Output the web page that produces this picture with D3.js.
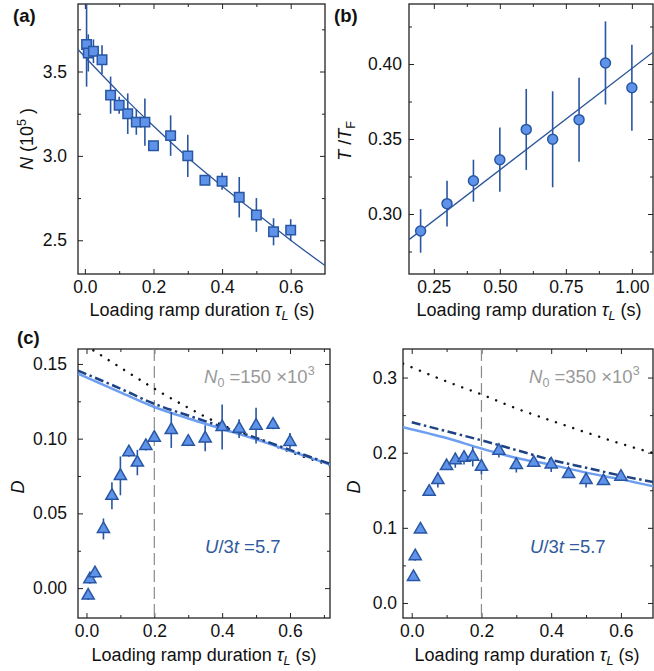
<!DOCTYPE html>
<html>
<head>
<meta charset="utf-8">
<script src="https://cdn.jsdelivr.net/npm/d3@7"></script>
<style>
  body { margin: 0; background: #fff; }
  svg text { font-family: "Liberation Sans", Arial, sans-serif; fill: #111; }
</style>
</head>
<body>
<div id="canvas"></div>
<script>
"use strict"

/* values */

// (a) atom number vs loading ramp duration
let tauA = [0.005, 0.01, 0.025, 0.05, 0.075, 0.1, 0.125, 0.15, 0.175, 0.2, 0.25, 0.3, 0.35, 0.4, 0.45, 0.5, 0.55, 0.6];
let numN = [3.66, 3.61, 3.62, 3.57, 3.36, 3.30, 3.25, 3.20, 3.20, 3.06, 3.12, 3.00, 2.855, 2.85, 2.755, 2.65, 2.55, 2.56];
let numErr = [0.25, 0.11, 0.07, 0.085, 0.11, 0.05, 0.12, 0.075, 0.14, 0.02, 0.12, 0.125, 0.02, 0.05, 0.12, 0.1, 0.08, 0.065];
let fitAx = [-0.02, 0.1, 0.2, 0.3, 0.4, 0.5, 0.6, 0.7];
let fitAy = [3.63, 3.375, 3.177, 2.99, 2.82, 2.66, 2.50, 2.35];

// (b) temperature vs loading ramp duration
let tauB = [0.2, 0.3, 0.4, 0.5, 0.6, 0.7, 0.8, 0.9, 1.0];
let tempT = [0.2887, 0.3069, 0.3222, 0.3362, 0.3564, 0.3498, 0.3629, 0.4007, 0.3842];
let tempErr = [0.0145, 0.0153, 0.014, 0.0214, 0.027, 0.032, 0.028, 0.0277, 0.0287];
let fitBx = [0.156, 1.08];
let fitBy = [0.2829, 0.4078];

// (c) double occupancy, two atom numbers
let tauC = [0.005, 0.01, 0.025, 0.05, 0.075, 0.1, 0.125, 0.15, 0.175, 0.2, 0.25, 0.3, 0.35, 0.4, 0.45, 0.5, 0.55, 0.6];
let dSmall = [-0.005, 0.006, 0.010, 0.0396, 0.0618, 0.0751, 0.0909, 0.084, 0.0951, 0.1007, 0.1058, 0.098, 0.1002, 0.1078, 0.1067, 0.1087, 0.1093, 0.0978];
let dSmallErr = [0.003, 0.003, 0.003, 0.007, 0.009, 0.013, 0.003, 0.0085, 0.003, 0.003, 0.012, 0.003, 0.0087, 0.015, 0.0063, 0.012, 0.003, 0.006];
let dLarge = [0.0347, 0.0622, 0.0978, 0.148, 0.1636, 0.1822, 0.190, 0.1933, 0.1947, 0.1813, 0.2027, 0.1836, 0.1867, 0.1844, 0.1716, 0.1636, 0.1622, 0.168];
let dLargeErr = [0.004, 0.006, 0.004, 0.004, 0.01, 0.005, 0.01, 0.009, 0.013, 0.01, 0.009, 0.01, 0.005, 0.01, 0.005, 0.01, 0.005, 0.005];

// theory curves (c), read at fixed durations
let curveX = [-0.025, 0.1, 0.2, 0.3, 0.4, 0.5, 0.6, 0.72];
let dotSmall = [0.1657, 0.1476, 0.1335, 0.1207, 0.1092, 0.1002, 0.0912, 0.0820];
let dashSmall = [0.1455, 0.1335, 0.1233, 0.1155, 0.1080, 0.1005, 0.0925, 0.0830];
let solidSmall = [0.1435, 0.1310, 0.1212, 0.1135, 0.1065, 0.0995, 0.0918, 0.0825];
let dashLargeX = [0.0, 0.1, 0.2, 0.3, 0.4, 0.5, 0.6, 0.72];
let dotLarge = [0.3185, 0.2948, 0.2775, 0.2589, 0.2427, 0.2270, 0.2120, 0.1960];
let dashLarge = [0.2405, 0.2285, 0.2165, 0.2035, 0.1905, 0.1800, 0.1695, 0.1585];
let solidLarge = [0.234, 0.2195, 0.2055, 0.193, 0.1838, 0.1735, 0.1645, 0.1525];

let blueFill = "#5f93ea", blueLine = "#2856a3";

let drawing = d3.select("#canvas")
    .append("svg")
    .attr("width", 654)
    .attr("height", 671);

let clipCount = 0;

/* one framed panel with inward ticks on every side */
function panel(opt) {
    let x = d3.scaleLinear().domain(opt.xd).range([opt.left, opt.right]);
    let y = d3.scaleLinear().domain(opt.yd).range([opt.bottom, opt.top]);
    let g = drawing.append("g");
    let id = "clip" + (clipCount++);
    g.append("clipPath").attr("id", id).append("rect")
        .attr("x", opt.left).attr("y", opt.top)
        .attr("width", opt.right - opt.left).attr("height", opt.bottom - opt.top);

    let axes = [
        [d3.axisBottom(x), "translate(0," + opt.bottom + ")", opt.xMajor, opt.xMinor, true, opt.xFmt, false],
        [d3.axisTop(x), "translate(0," + opt.top + ")", opt.xMajor, opt.xMinor, false, null, false],
        [d3.axisLeft(y), "translate(" + opt.left + ",0)", opt.yMajor, opt.yMinor, true, opt.yFmt, true],
        [d3.axisRight(y), "translate(" + opt.right + ",0)", opt.yMajor, opt.yMinor, false, null, true]
    ];
    axes.forEach(function (a) {
        let ax = a[0];
        let major = g.append("g").attr("transform", a[1])
            .call(ax.tickValues(a[2]).tickSizeInner(-5).tickSizeOuter(0)
                .tickPadding(a[6] ? opt.yPad : 7)
                .tickFormat(a[4] ? d3.format(a[5]) : ""));
        major.select(".domain").remove();
        major.selectAll("line").attr("stroke", "#222").attr("stroke-width", 1);
        major.selectAll("text").attr("font-size", 17.5).attr("fill", "#111");
        let minor = g.append("g").attr("transform", a[1])
            .call(ax.tickValues(a[3]).tickSizeInner(-3).tickFormat(""));
        minor.select(".domain").remove();
        minor.selectAll("line").attr("stroke", "#222").attr("stroke-width", 1);
    });

    g.append("rect")
        .attr("x", opt.left).attr("y", opt.top)
        .attr("width", opt.right - opt.left).attr("height", opt.bottom - opt.top)
        .attr("fill", "none").attr("stroke", "#222").attr("stroke-width", 1.3);

    let plot = g.append("g").attr("clip-path", "url(#" + id + ")");
    return {x: x, y: y, g: g, plot: plot};
}

function line(p, xs, ys, color, width, dash) {
    let pts = xs.map(function (v, i) { return [v, ys[i]]; });
    let path = p.plot.append("path")
        .datum(pts)
        .attr("d", d3.line().x(d => p.x(d[0])).y(d => p.y(d[1])).curve(d3.curveMonotoneX))
        .attr("fill", "none")
        .attr("stroke", color)
        .attr("stroke-width", width);
    if (dash) path.attr("stroke-dasharray", dash);
    return path;
}

function errorBars(p, xs, ys, es) {
    p.plot.selectAll(null).data(xs).enter().append("line")
        .attr("x1", d => p.x(d)).attr("x2", d => p.x(d))
        .attr("y1", (d, i) => p.y(ys[i] - es[i]))
        .attr("y2", (d, i) => p.y(ys[i] + es[i]))
        .attr("stroke", blueLine).attr("stroke-width", 1.6);
}

function markers(p, xs, ys, type, size) {
    p.g.selectAll(null).data(xs).enter().append("path")
        .attr("transform", (d, i) => "translate(" + p.x(d) + "," + p.y(ys[i]) + ")")
        .attr("d", d3.symbol().type(type).size(size))
        .attr("fill", blueFill).attr("stroke", blueLine).attr("stroke-width", 1.5);
}

function xTitle(p, cx, yb) {
    let t = p.g.append("text").attr("x", cx).attr("y", yb)
        .attr("text-anchor", "middle").attr("font-size", 18);
    t.append("tspan").text("Loading ramp duration ");
    t.append("tspan").attr("font-style", "italic").text("τ");
    t.append("tspan").attr("font-style", "italic").attr("font-size", 12.5).attr("dy", 4).text("L");
    t.append("tspan").attr("dy", -4).text("  (s)");
}

function label(txt, x, y) {
    drawing.append("text").attr("x", x).attr("y", y)
        .attr("font-size", 18.5).attr("font-weight", "bold").text(txt);
}

/* ---------- (a) ---------- */
let pa = panel({
    left: 78, right: 325, top: 4, bottom: 274,
    xd: [-0.02, 0.7], yd: [2.3, 3.9],
    xMajor: [0, 0.2, 0.4, 0.6], xMinor: [0.1, 0.3, 0.5],
    yMajor: [2.5, 3.0, 3.5], yMinor: [2.75, 3.25, 3.75],
    xFmt: ".1f", yFmt: ".1f", yPad: 11
});
line(pa, fitAx, fitAy, "#2c5599", 1.3);
errorBars(pa, tauA, numN, numErr);
markers(pa, tauA, numN, d3.symbolSquare, 90);
xTitle(pa, 202, 316);
let ya = pa.g.append("text").attr("transform", "translate(33,139) rotate(-90)")
    .attr("text-anchor", "middle").attr("font-size", 18);
ya.append("tspan").attr("font-style", "italic").text("N");
ya.append("tspan").text(" (10");
ya.append("tspan").attr("font-size", 12.5).attr("dy", -7).text("5");
ya.append("tspan").attr("dy", 7).text(" )");
label("(a)", 13, 22);

/* ---------- (b) ---------- */
let pb = panel({
    left: 409, right: 653, top: 4, bottom: 274,
    xd: [0.156, 1.08], yd: [0.26, 0.44],
    xMajor: [0.25, 0.5, 0.75, 1.0], xMinor: [0.375, 0.625, 0.875],
    yMajor: [0.30, 0.35, 0.40], yMinor: [0.275, 0.325, 0.375, 0.425],
    xFmt: ".2f", yFmt: ".2f", yPad: 7
});
line(pb, fitBx, fitBy, "#2c5599", 1.3);
errorBars(pb, tauB, tempT, tempErr);
markers(pb, tauB, tempT, d3.symbolCircle, 78);
xTitle(pb, 529, 316);
let yb = pb.g.append("text").attr("transform", "translate(351,141) rotate(-90)")
    .attr("text-anchor", "middle").attr("font-size", 18);
yb.append("tspan").attr("font-style", "italic").text("T");
yb.append("tspan").text(" /");
yb.append("tspan").attr("font-style", "italic").text("T");
yb.append("tspan").attr("font-size", 12.5).attr("dy", 4).text("F");
label("(b)", 334, 22);

/* ---------- (c) ---------- */
function panelC(opt, dotX, dots, dashX, dashes, solids, dVals, dErrs, nText) {
    let p = panel(opt);
    p.plot.append("line")
        .attr("x1", p.x(0.2)).attr("x2", p.x(0.2))
        .attr("y1", opt.top).attr("y2", opt.bottom)
        .attr("stroke", "#8a8a8a").attr("stroke-width", 1.2).attr("stroke-dasharray", "12,5");
    line(p, dotX, dots, "#111", 2.4, "0.1,9").attr("stroke-linecap", "round");
    line(p, dotX, solids, "#6d9ef0", 2.5);
    line(p, dashX, dashes, "#1e4384", 2.5, "9,3.5,2.5,3.5");
    errorBars(p, tauC, dVals, dErrs);
    markers(p, tauC, dVals, d3.symbolTriangle, 64);
    xTitle(p, opt.titleX, 661);

    p.g.append("text").attr("transform", "translate(" + opt.dX + ",487) rotate(-90)")
        .attr("text-anchor", "middle").attr("font-size", 18).attr("font-style", "italic").text("D");

    let n = p.g.append("text").attr("x", opt.nX).attr("y", 383)
        .attr("font-size", 18.5).style("fill", "#999");
    n.append("tspan").attr("font-style", "italic").text("N");
    n.append("tspan").attr("font-size", 12.5).attr("dy", 4).text("0");
    n.append("tspan").attr("dy", -4).text(" =" + nText + " ×10");
    n.append("tspan").attr("font-size", 12.5).attr("dy", -8).text("3");

    let u = p.g.append("text").attr("x", opt.uX).attr("y", 553)
        .attr("font-size", 18.5).style("fill", "#2f5aa0");
    u.append("tspan").attr("font-style", "italic").text("U");
    u.append("tspan").text("/3");
    u.append("tspan").attr("font-style", "italic").text("t");
    u.append("tspan").text(" =5.7");
    return p;
}

panelC({
    left: 78, right: 330, top: 349, bottom: 618,
    xd: [-0.025, 0.718], yd: [-0.02, 0.16],
    xMajor: [0, 0.2, 0.4, 0.6], xMinor: [0.1, 0.3, 0.5, 0.7],
    yMajor: [0, 0.05, 0.10, 0.15], yMinor: [0.025, 0.075, 0.125],
    xFmt: ".1f", yFmt: ".2f", yPad: 11,
    titleX: 204, dX: 24, nX: 204, uX: 205
}, curveX, dotSmall, curveX, dashSmall, solidSmall, dSmall, dSmallErr, "150");

panelC({
    left: 403, right: 653, top: 349, bottom: 618,
    xd: [-0.025, 0.692], yd: [-0.02, 0.338],
    xMajor: [0, 0.2, 0.4, 0.6], xMinor: [0.1, 0.3, 0.5],
    yMajor: [0, 0.1, 0.2, 0.3], yMinor: [0.05, 0.15, 0.25],
    xFmt: ".1f", yFmt: ".1f", yPad: 6,
    titleX: 527, dX: 360, nX: 529, uX: 530
}, curveX, dotLarge, dashLargeX, dashLarge, solidLarge, dLarge, dLargeErr, "350");

label("(c)", 17, 344);
</script>
</body>
</html>
